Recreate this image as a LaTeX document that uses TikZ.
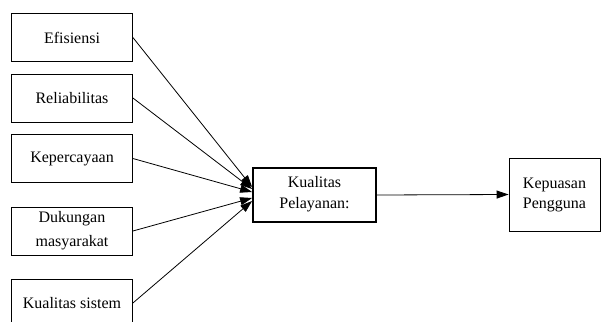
\documentclass[tikz,border=0pt]{standalone}
\usepackage{fontspec}
\setmainfont{Liberation Serif}
\usetikzlibrary{arrows.meta}
\begin{document}
\begin{tikzpicture}[x=1pt,y=-1pt,
  factor/.style={draw, line width=0.8pt, minimum width=121pt, minimum height=48pt, inner sep=0pt, align=center, font=\fontsize{16}{24}\selectfont},
  center box/.style={draw, line width=1.8pt, minimum width=123pt, minimum height=54pt, inner sep=0pt, align=center, font=\fontsize{16}{21}\selectfont},
  result/.style={draw, line width=0.8pt, minimum width=91pt, minimum height=73pt, inner sep=0pt, align=center, font=\fontsize{16}{20}\selectfont},
  link/.style={line width=0.8pt, -{Triangle[length=12pt,width=8pt]}}]
\useasboundingbox (0,0) rectangle (601,321);
\node[factor] (ef) at (72,37.5) {Efisiensi};
\node[factor] (re) at (72,98) {Reliabilitas};
\node[factor] (ke) at (72,158.5) {Kepercayaan};
\node[factor] (du) at (72,231) {Dukungan\\masyarakat};
\node[factor] (ks) at (72,303) {Kualitas sistem};
\node[center box] (kp) at (314.5,195) {Kualitas\\Pelayanan:\rule[-6pt]{0pt}{0pt}};
\node[result] (pu) at (554.5,194.5) {Kepuasan\\Pengguna};
\draw[link] (ef.east) -- ([yshift=8pt]kp.west);
\draw[link] (re.east) -- ([yshift=6pt]kp.west);
\draw[link] (ke.east) -- ([yshift=3pt]kp.west);
\draw[link] (du.east) -- ([yshift=-3pt]kp.west);
\draw[link] (ks.east) -- ([yshift=-6pt]kp.west);
\draw[link] (kp.east) -- (pu.west);
\end{tikzpicture}
\end{document}
